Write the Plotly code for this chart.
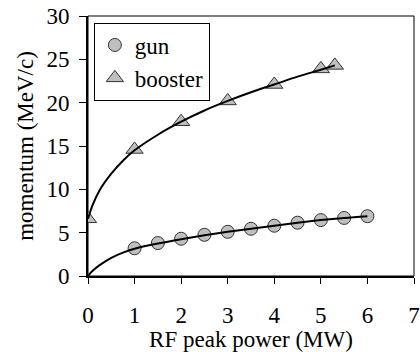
import plotly.graph_objects as go

# measured points
gun_x = [1, 1.5, 2, 2.5, 3, 3.5, 4, 4.5, 5, 5.5, 6]
gun_y = [3.2, 3.8, 4.3, 4.75, 5.1, 5.45, 5.8, 6.15, 6.45, 6.7, 6.9]
booster_x = [0, 1, 2, 3, 4, 5, 5.3]
booster_y = [6.6, 14.6, 17.8, 20.2, 22.1, 23.9, 24.3]

# fitted curves
gun_fit_x = [0, 0.1, 0.25, 0.5, 0.75, 1, 1.5, 2, 2.5, 3, 3.5, 4, 4.5, 5, 5.5, 6]
gun_fit_y = [0, 0.6, 1.25, 2.1, 2.7, 3.15, 3.75, 4.25, 4.7, 5.1, 5.45, 5.8, 6.15, 6.45, 6.7, 6.9]
booster_fit_x = [0, 0.1, 0.25, 0.5, 0.75, 1, 1.5, 2, 2.5, 3, 3.5, 4, 4.5, 5, 5.3]
booster_fit_y = [6.6, 8.2, 9.9, 11.8, 13.3, 14.5, 16.3, 17.8, 19.1, 20.2, 21.2, 22.1, 23.0, 23.8, 24.3]

x_ticks = [0, 1, 2, 3, 4, 5, 6, 7]
y_ticks = [0, 5, 10, 15, 20, 25, 30]

FONT = "Liberation Serif"
FS = 23
fill = "#bfbfbf"
edge = "#333333"

fig = go.Figure()
fig.add_trace(go.Scatter(x=gun_x, y=gun_y, mode="markers", name="gun",
                         marker=dict(symbol="circle", size=13, color=fill,
                                     line=dict(color=edge, width=1))))
fig.add_trace(go.Scatter(x=booster_x, y=booster_y, mode="markers", name="booster",
                         marker=dict(symbol="triangle-up", size=15, color=fill,
                                     line=dict(color=edge, width=1))))
fig.add_trace(go.Scatter(x=gun_fit_x, y=gun_fit_y, mode="lines", showlegend=False,
                         line=dict(color="black", width=2, shape="spline")))
fig.add_trace(go.Scatter(x=booster_fit_x, y=booster_fit_y, mode="lines", showlegend=False,
                         line=dict(color="black", width=2, shape="spline")))

fig.update_layout(
    width=420, height=352,
    margin=dict(l=88, r=6, t=16, b=76),
    paper_bgcolor="white", plot_bgcolor="white",
    font=dict(family=FONT, size=FS, color="black"),
    showlegend=True,
    legend=dict(x=0.018, y=0.975, xanchor="left", yanchor="top",
                bordercolor="black", borderwidth=1, bgcolor="white",
                font=dict(family=FONT, size=FS), itemwidth=30,
                tracegroupgap=0),
    shapes=[dict(type="rect", xref="paper", yref="paper", x0=0, x1=1, y0=0, y1=1,
                 line=dict(color="black", width=1), layer="below")],
)
fig.update_xaxes(range=[0, 7], tickvals=x_ticks, ticks="outside", ticklen=6,
                 tickwidth=1, tickcolor="black", showgrid=False, zeroline=False,
                 showline=True, linecolor="black", linewidth=2, automargin=False,
                 ticklabelstandoff=11,
                 title=dict(text="RF peak power (MW)", standoff=4,
                            font=dict(family=FONT, size=FS)))
fig.update_yaxes(range=[0, 30], tickvals=y_ticks, ticks="outside", ticklen=7,
                 tickwidth=1, tickcolor="black", showgrid=False, zeroline=False,
                 showline=True, linecolor="black", linewidth=2, automargin=False,
                 ticklabelstandoff=5,
                 title=dict(text="momentum (MeV/c)", standoff=6,
                            font=dict(family=FONT, size=FS)))

fig.write_html("out.html")
